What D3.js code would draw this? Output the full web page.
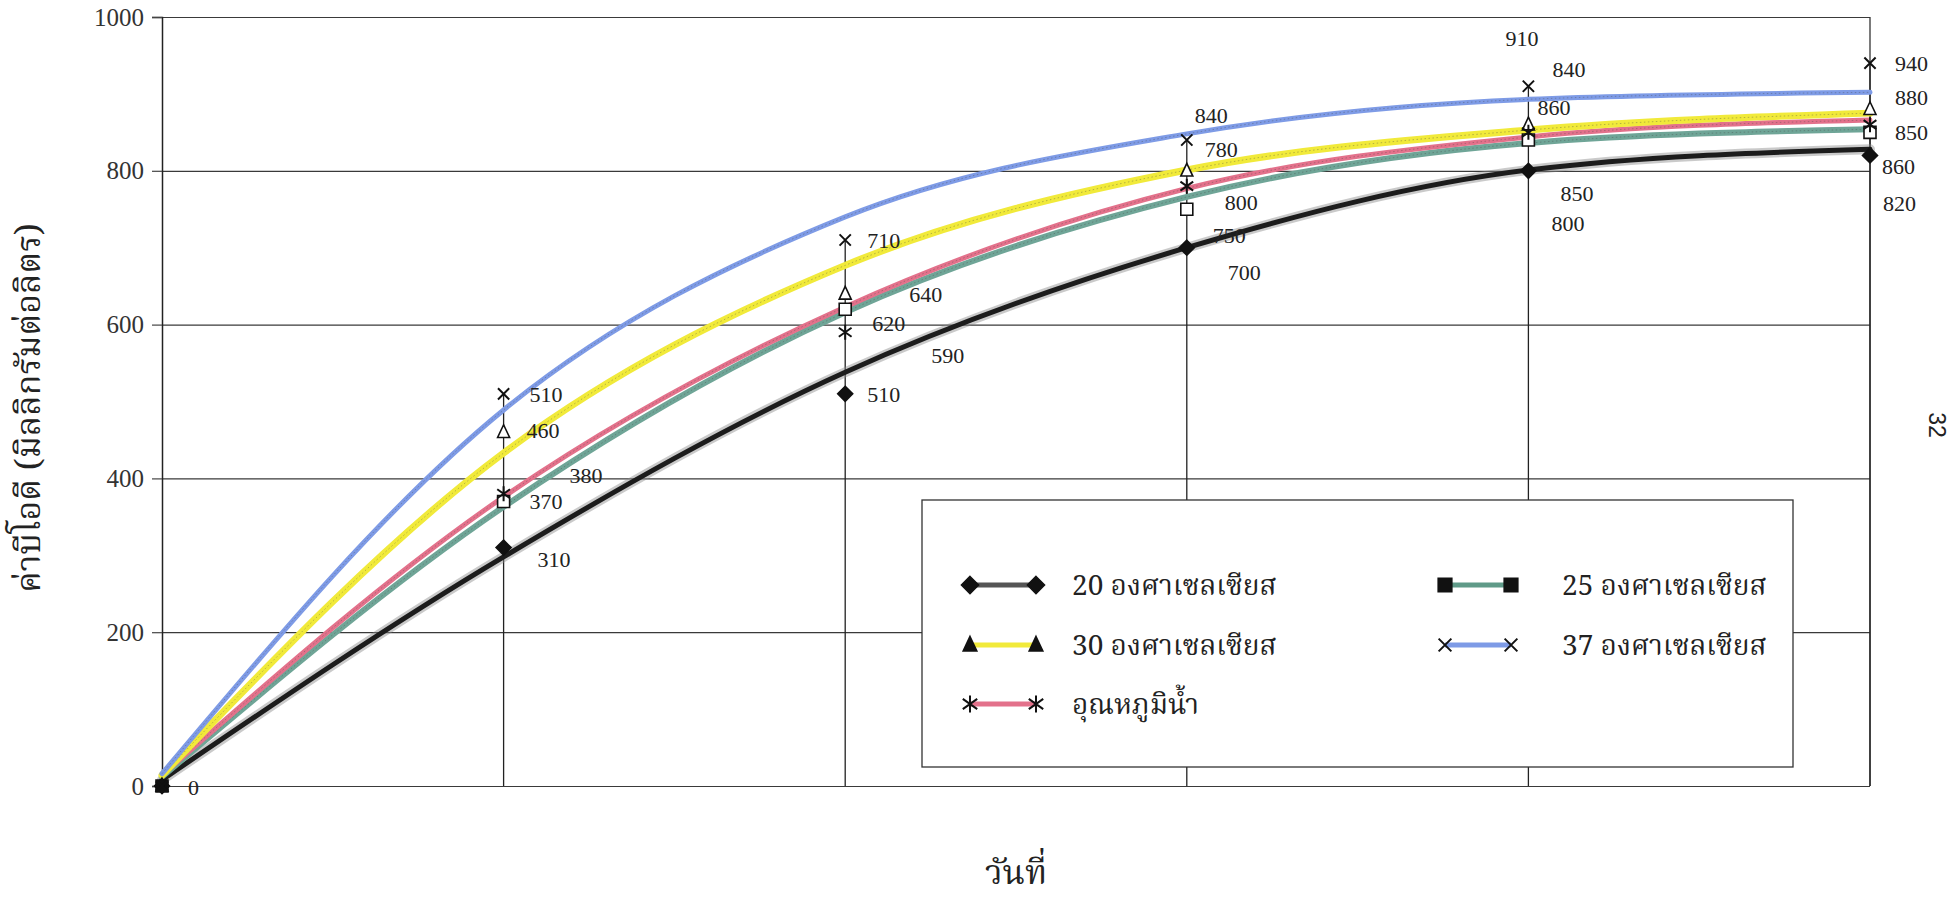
<!DOCTYPE html>
<html>
<head>
<meta charset="utf-8">
<script src="https://cdn.jsdelivr.net/npm/d3@7"></script>
<style>
  html, body { margin: 0; padding: 0; background: #ffffff; }
  svg { display: block; }
  .serif { font-family: "Liberation Serif", "Times New Roman", serif; }
  .thai { font-family: "Noto Serif Thai", "Noto Sans Thai", "Norasi", "Loma", "Garuda", "Liberation Serif", serif; }
</style>
</head>
<body>
<svg id="chart" width="1959" height="903"></svg>
<script>
// ---------------- data ----------------
const days = [0, 1, 2, 3, 4, 5];
const yTicks = [0, 200, 400, 600, 800, 1000];

const seriesNames = ["20 องศาเซลเซียส", "25 องศาเซลเซียส", "30 องศาเซลเซียส", "อุณหภูมิน้ำ", "37 องศาเซลเซียส"];

// measured points (markers + labels)
const bod20 = [0, 310, 510, 700, 800, 820];
const bod25 = [0, 370, 620, 750, 840, 850];
const bod30 = [0, 460, 640, 800, 860, 880];
const bodWater = [0, 380, 590, 780, 850, 860];
const bod37 = [0, 510, 710, 840, 910, 940];

// smoothed curves as drawn (value of each curve where it crosses each day)
const curve20 = [8, 298, 538, 700, 801, 828];
const curve25 = [12, 363, 616, 766, 836, 854];
const curve30 = [14, 433, 677, 801, 853, 875];
const curveWater = [14, 376, 623, 777, 844, 866];
const curve37 = [16, 489, 740, 848, 893, 902];

const xTitle = "วันที่";
const yTitle = "ค่าบีโอดี (มิลลิกรัมต่อลิตร)";
const pageNo = "32";

// ---------------- styles / layout ----------------
const W = 1959, H = 903;
const plot = { left: 162, right: 1870, top: 17, bottom: 786 };

const styles = [
  { color: "#1c1c1c", width: 5, halo: "#8a8a8a", sym: "diamond", legFill: true, legColor: "#555" },
  { color: "#6fa597", width: 6, sym: "square", legFill: true, legColor: "#5f9a88" },
  { color: "#f1ea3a", width: 7, sym: "triangle", legFill: true, legColor: "#f1ea3a" },
  { color: "#e3718b", width: 5, sym: "asterisk", legFill: false, legColor: "#e3718b" },
  { color: "#7e9be6", width: 5, sym: "cross", legFill: false, legColor: "#7e9be6" }
];
const seriesData = [bod20, bod25, bod30, bodWater, bod37];
const curveData = [curve20, curve25, curve30, curveWater, curve37];

// label nudges [dx, dy] relative to each marker (null = no label)
const labelNudge = [
  [null, [34, 12], [22, 0], [41, 25], [23, 52], [13, 48]],
  [[26, 1], [26, 0], [27, 14], [26, 26], [24, -71], [25, 0]],
  [null, [23, -2], [64, 0], [38, 31], [9, -17], [25, -12]],
  [null, [66, -18], [86, 23], [18, -37], [32, 61], [12, 42]],
  [null, [26, 0], [22, 0], [8, -25], [-23, -48], [25, 0]]
];
// legend placement [col,row]
const legendPos = [[0, 0], [1, 0], [0, 1], [0, 2], [1, 1]];

// ---------------- drawing ----------------
const svg = d3.select("#chart");
svg.append("rect").attr("width", W).attr("height", H).attr("fill", "#fff");

const x = d3.scaleLinear().domain([0, 5]).range([plot.left, plot.right]);
const y = d3.scaleLinear().domain([0, 1000]).range([plot.bottom, plot.top]);

// gridlines
const grid = svg.append("g").attr("transform", `translate(${plot.left},0)`)
  .call(d3.axisLeft(y).tickValues(yTicks).tickSize(-(plot.right - plot.left)).tickFormat(""));
grid.select(".domain").remove();
grid.selectAll("line").attr("stroke", "#3a3a3a").attr("stroke-width", 1.2);

// left axis with outward ticks and labels
const yAxis = svg.append("g").attr("transform", `translate(${plot.left},0)`)
  .call(d3.axisLeft(y).tickValues(yTicks).tickSize(10).tickPadding(8).tickFormat(d3.format("d")));
yAxis.select(".domain").attr("stroke", "#222").attr("stroke-width", 1.5);
yAxis.selectAll("line").attr("stroke", "#444").attr("stroke-width", 1.2);
yAxis.selectAll("text").attr("class", "serif").attr("font-size", 25).attr("fill", "#333");

// right border
svg.append("line")
  .attr("x1", x(5)).attr("x2", x(5)).attr("y1", y(1000)).attr("y2", y(0))
  .attr("stroke", "#333").attr("stroke-width", 1.3);

// drop lines from the highest point at each day
days.forEach((d, i) => {
  if (i === 0) return;
  const mx = d3.max(seriesData, s => s[i]);
  svg.append("line")
    .attr("x1", x(d)).attr("x2", x(d)).attr("y1", y(mx)).attr("y2", y(0))
    .attr("stroke", "#222").attr("stroke-width", 1.3);
});

// curves
const lineGen = d3.line().x((v, i) => x(days[i])).y(v => y(v)).curve(d3.curveMonotoneX);
const order = [0, 1, 3, 2, 4];
order.forEach(k => {
  const st = styles[k];
  if (st.halo) {
    svg.append("path").attr("d", lineGen(curveData[k])).attr("fill", "none")
      .attr("stroke", st.halo).attr("stroke-width", 10).attr("stroke-opacity", 0.45)
      .attr("stroke-linecap", "round");
  }
  svg.append("path").attr("d", lineGen(curveData[k])).attr("fill", "none")
    .attr("stroke", st.color).attr("stroke-width", st.width).attr("stroke-linecap", "round");
  if (!st.halo) {
    svg.append("path").attr("d", lineGen(curveData[k])).attr("fill", "none")
      .attr("stroke", "#444").attr("stroke-width", 1).attr("stroke-opacity", 0.35)
      .attr("stroke-dasharray", "1.5,2.5");
  }
});

// marker shapes
function symPath(type, r) {
  switch (type) {
    case "diamond": return `M0,${-r}L${r},0L0,${r}L${-r},0Z`;
    case "square": return `M${-r * 0.8},${-r * 0.8}H${r * 0.8}V${r * 0.8}H${-r * 0.8}Z`;
    case "triangle": return `M0,${-r}L${r * 0.8},${r * 0.7}L${-r * 0.8},${r * 0.7}Z`;
    case "asterisk": return `M0,${-r}V${r}M${-r * 0.85},${-r * 0.6}L${r * 0.85},${r * 0.6}M${r * 0.85},${-r * 0.6}L${-r * 0.85},${r * 0.6}`;
    case "cross": return `M${-r * 0.75},${-r * 0.75}L${r * 0.75},${r * 0.75}M${r * 0.75},${-r * 0.75}L${-r * 0.75},${r * 0.75}`;
  }
}
function drawSym(g, type, cx, cy, r, filled) {
  const open = (type === "asterisk" || type === "cross");
  g.append("path").attr("d", symPath(type, r))
    .attr("transform", `translate(${cx},${cy})`)
    .attr("fill", open ? "none" : (filled ? "#111" : "#fff"))
    .attr("stroke", "#111").attr("stroke-width", open ? 2 : 1.6);
}

// markers and labels
const mg = svg.append("g");
const lg = svg.append("g");
seriesData.forEach((vals, k) => {
  vals.forEach((v, i) => {
    const cx = x(days[i]), cy = y(v);
    drawSym(mg, styles[k].sym, cx, cy, 7.5, k === 0 || i === 0);
    const nd = labelNudge[k][i];
    if (nd) {
      lg.append("text").attr("class", "serif")
        .attr("x", cx + nd[0]).attr("y", cy + nd[1]).attr("dy", "0.35em")
        .attr("font-size", 22).attr("fill", "#222")
        .text(d3.format("d")(v));
    }
  });
});

// legend
const leg = svg.append("g");
leg.append("rect").attr("x", 922).attr("y", 500).attr("width", 871).attr("height", 267)
  .attr("fill", "#fff").attr("stroke", "#333").attr("stroke-width", 1.3);
const colX = [970, 1445], textX = [1072, 1562], rowY = [585, 645, 704], symW = 66;
seriesNames.forEach((name, k) => {
  const [c, r] = legendPos[k];
  const x0 = colX[c], yy = rowY[r];
  leg.append("line").attr("x1", x0).attr("x2", x0 + symW).attr("y1", yy).attr("y2", yy)
    .attr("stroke", styles[k].legColor).attr("stroke-width", 5);
  drawSym(leg, styles[k].sym, x0, yy, 8.5, styles[k].legFill);
  drawSym(leg, styles[k].sym, x0 + symW, yy, 8.5, styles[k].legFill);
  leg.append("text").attr("class", "thai").attr("x", textX[c]).attr("y", yy).attr("dy", "0.35em")
    .attr("font-size", 28).attr("fill", "#222").text(name);
});

// axis titles
svg.append("text").attr("class", "thai")
  .attr("transform", `translate(28,408) rotate(-90)`).attr("text-anchor", "middle").attr("dy", "0.35em")
  .attr("font-size", 34).attr("fill", "#222").text(yTitle);
svg.append("text").attr("class", "thai")
  .attr("x", (plot.left + plot.right) / 2).attr("y", 884).attr("text-anchor", "middle")
  .attr("font-size", 34).attr("fill", "#222").text(xTitle);
// page number
svg.append("text").attr("font-family", "Liberation Sans, Arial, sans-serif")
  .attr("transform", `translate(1937,425) rotate(90)`).attr("text-anchor", "middle").attr("dy", "0.35em")
  .attr("font-size", 23).attr("fill", "#222").text(pageNo);
</script>
</body>
</html>
